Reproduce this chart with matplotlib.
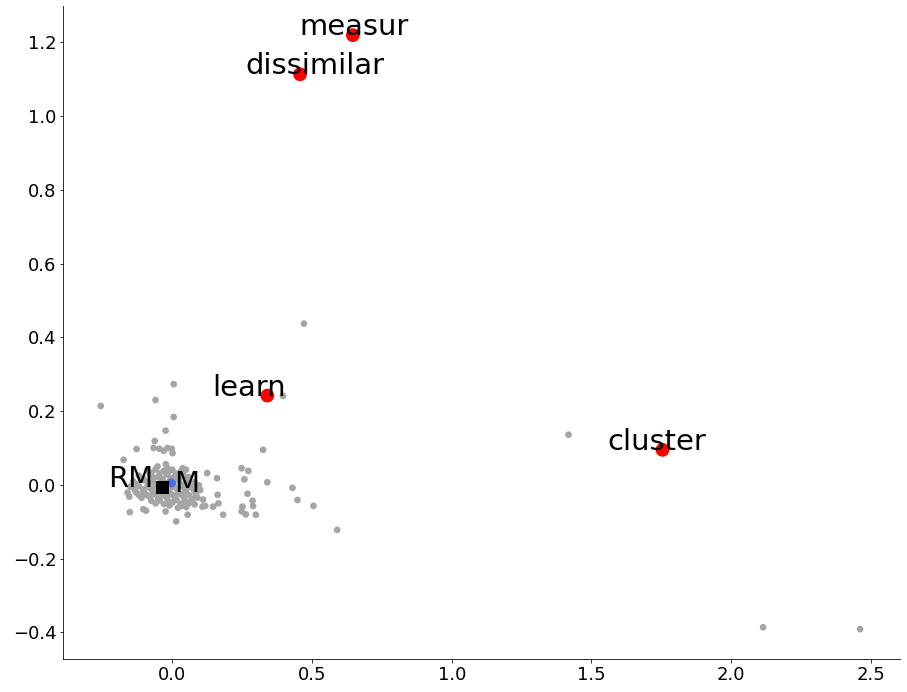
import matplotlib
matplotlib.use("Agg")
import matplotlib.pyplot as plt

# gray background words (x, y)
gray_x = [
    0.005, -0.256, -0.060, 0.005, -0.024, -0.063, -0.128,
    -0.067, -0.046, -0.031, -0.017, -0.002, 0.001, -0.174,
    -0.053, -0.023, -0.017, 0.037, 0.049, 0.125, 0.160,
    0.325, 0.396, 0.248, 0.272, 0.258, 0.340, 0.430, 0.448, 0.505, 0.590,
    0.269, 0.287, 0.289, 0.251, 0.248, 0.263, 0.299, 0.182,
    0.162, 0.165, 0.146, 0.110, 0.118, 0.108, 0.055, 0.014, -0.024,
    -0.104, -0.094, -0.152, -0.160, -0.154, 0.100,
    0.471, 1.418, 2.114, 2.461,
    # dense core
    -0.09, -0.06, -0.03, 0.00, 0.03,
    -0.12, -0.08, -0.05, -0.02, 0.01, 0.04, 0.06,
    -0.14, -0.10, -0.07, -0.04, -0.01, 0.02, 0.05, 0.08,
    -0.15, -0.12, -0.09, -0.06, -0.03, 0.00, 0.03, 0.06, 0.09,
    -0.13, -0.10, -0.07, -0.04, -0.01, 0.02, 0.05, 0.08,
    -0.11, -0.08, -0.05, -0.02, 0.01, 0.04, 0.07, 0.09,
    -0.06, -0.03, 0.00, 0.03, 0.06, 0.08,
    0.02, 0.05,
    # in-between core
    -0.075, -0.045, -0.015, 0.015,
    -0.105, -0.065, -0.035, -0.005, 0.025, 0.05,
    -0.125, -0.085, -0.055, -0.025, 0.005, 0.035, 0.065, 0.095,
    -0.135, -0.105, -0.075, -0.045, -0.015, 0.015, 0.045, 0.075,
    -0.12, -0.09, -0.06, -0.03, 0.00, 0.03, 0.06, 0.085,
    -0.075, -0.045, -0.015, 0.015, 0.045, 0.07,
    -0.01, 0.035,
]
gray_y = [
    0.273, 0.214, 0.230, 0.184, 0.147, 0.119, 0.097,
    0.100, 0.098, 0.092, 0.100, 0.098, 0.086, 0.068,
    0.050, 0.056, 0.045, 0.045, 0.041, 0.032, 0.018,
    0.095, 0.241, 0.045, 0.038, 0.015, 0.007, -0.008, -0.041, -0.057, -0.122,
    -0.024, -0.043, -0.057, -0.059, -0.072, -0.080, -0.081, -0.081,
    -0.027, -0.050, -0.059, -0.040, -0.057, -0.059, -0.081, -0.099, -0.072,
    -0.066, -0.070, -0.074, -0.021, -0.032, -0.014,
    0.437, 0.136, -0.386, -0.391,
    0.040, 0.042, 0.038, 0.041, 0.036,
    0.025, 0.027, 0.022, 0.028, 0.024, 0.026, 0.021,
    0.010, 0.012, 0.008, 0.011, 0.009, 0.013, 0.010, 0.007,
    -0.005, -0.003, -0.006, -0.004, -0.007, -0.005, -0.002, -0.006, -0.004,
    -0.020, -0.022, -0.018, -0.021, -0.019, -0.023, -0.020, -0.017,
    -0.035, -0.033, -0.037, -0.034, -0.036, -0.032, -0.038, -0.035,
    -0.050, -0.052, -0.048, -0.051, -0.049, -0.053,
    -0.062, -0.060,
    0.033, 0.031, 0.034, 0.030,
    0.017, 0.019, 0.016, 0.018, 0.015, 0.017,
    0.002, 0.003, 0.001, 0.004, 0.000, 0.002, 0.001, -0.001,
    -0.012, -0.013, -0.011, -0.014, -0.012, -0.010, -0.013, -0.011,
    -0.027, -0.028, -0.026, -0.029, -0.027, -0.025, -0.028, -0.026,
    -0.043, -0.042, -0.044, -0.041, -0.043, -0.042,
    -0.056, -0.057,
]

# highlighted words
red_words = ["measur", "dissimilar", "learn", "cluster"]
red_x = [0.646, 0.457, 0.340, 1.754]
red_y = [1.219, 1.113, 0.242, 0.095]
red_offsets = [(1, 0), (15, 0), (-18, 0), (-6, 0)]

# query points
rm_xy = (-0.036, -0.006)
m_xy = (-0.003, 0.005)

fig = plt.figure(figsize=(907 / 72, 692 / 72), dpi=72)
ax = fig.add_axes([0.0698, 0.0477, 0.9225, 0.9436])

ax.scatter(gray_x, gray_y, s=45, color="#a5a5a5", edgecolors="none", zorder=2)
ax.scatter(red_x, red_y, s=190, color="red", edgecolors="none", zorder=3)
for word, x, y, off in zip(red_words, red_x, red_y, red_offsets):
    ax.annotate(word, (x, y), xytext=off, textcoords="offset points",
                ha="center", va="baseline", fontsize=29, zorder=4)

ax.scatter([m_xy[0]], [m_xy[1]], s=80, color="#4a6ee0", edgecolors="none", zorder=3)
ax.scatter([rm_xy[0]], [rm_xy[1]], s=150, marker="s", color="black", zorder=4)
ax.annotate("RM", rm_xy, xytext=(-9, 0), textcoords="offset points",
            ha="right", va="baseline", fontsize=29, zorder=5)
ax.annotate("M", m_xy, xytext=(3, -9), textcoords="offset points",
            ha="left", va="baseline", fontsize=29, zorder=5)

ax.set_xlim(-0.39, 2.604)
ax.set_ylim(-0.472, 1.298)
ax.set_xticks([0.0, 0.5, 1.0, 1.5, 2.0, 2.5])
ax.set_yticks([-0.4, -0.2, 0.0, 0.2, 0.4, 0.6, 0.8, 1.0, 1.2])
ax.tick_params(labelsize=18)
ax.spines["top"].set_visible(False)
ax.spines["right"].set_visible(False)

fig.savefig("out.png", dpi=72)
